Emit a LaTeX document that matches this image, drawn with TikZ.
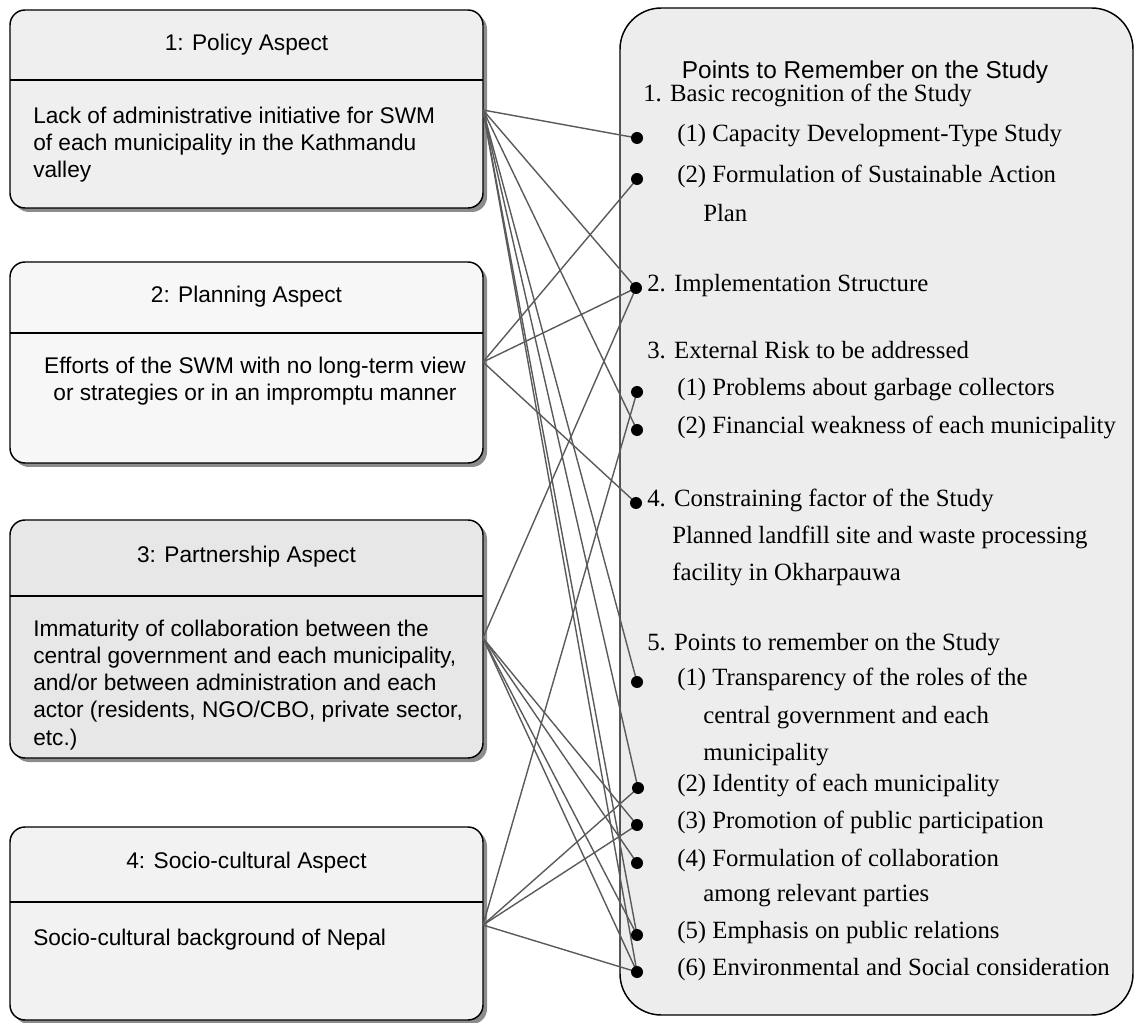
\documentclass[tikz,border=0pt]{standalone}
\usepackage{fontspec}
\setmainfont{Liberation Serif}
\setsansfont{Liberation Sans}
\definecolor{shadowc}{HTML}{8C8C8C}
\definecolor{fillA}{HTML}{EFEFEF}
\definecolor{fillB}{HTML}{F7F7F7}
\definecolor{fillC}{HTML}{E7E7E7}
\definecolor{fillD}{HTML}{F2F2F2}
\definecolor{panelc}{HTML}{EDEDED}
\definecolor{linkc}{HTML}{5A5A5A}
\begin{document}
\begin{tikzpicture}[x=0.75pt,y=-0.75pt,
  aspectbox/.style={draw=black, line width=1.1pt, rounded corners=11.25pt},
  boxshadow/.style={fill=shadowc, rounded corners=11.25pt},
  divider/.style={draw=black, line width=1pt},
  headtext/.style={font=\sffamily\fontsize{17}{20.3}\selectfont, inner sep=0pt},
  bodytext/.style={font=\sffamily\fontsize{17}{20.3}\selectfont, inner sep=0pt},
  paneltitle/.style={font=\sffamily\fontsize{18.3}{22}\selectfont, inner sep=0pt},
  itemtext/.style={font=\fontsize{18.6}{22}\selectfont, anchor=west, inner sep=0pt,
                   text height=0.68em, text depth=0.22em},
  dot/.style={circle, fill=black, inner sep=0pt, minimum size=9pt},
  link/.style={draw=linkc, line width=1.05pt}]

\useasboundingbox (0,0) rectangle (1136,1023);

% ---------- right panel ----------
\filldraw[fill=panelc, draw=black, line width=1.1pt, rounded corners=31pt]
  (620,8) rectangle (1133,1015);

% ---------- left aspect boxes ----------
% 1: Policy
\fill[boxshadow] (14,14) rectangle (487,212);
\filldraw[aspectbox, fill=fillA] (10,10) rectangle (483,208);
\draw[divider] (10,80) -- (483,80);
\node[headtext] (t1) at (246.5,45) {1: Policy Aspect};
\node[bodytext, anchor=west, align=left] (b1) at (33,145)
  {Lack of administrative initiative for SWM\\of each municipality in the Kathmandu\\valley};

% 2: Planning
\fill[boxshadow] (14,266) rectangle (487,467);
\filldraw[aspectbox, fill=fillB] (10,262) rectangle (483,463);
\draw[divider] (10,333) -- (483,333);
\node[headtext] (t2) at (246.5,297) {2: Planning Aspect};
\node[bodytext, align=center] (b2) at (255,381.5)
  {Efforts of the SWM with no long-term view\\or strategies or in an impromptu manner};

% 3: Partnership
\fill[boxshadow] (14,524) rectangle (487,762);
\filldraw[aspectbox, fill=fillC] (10,520) rectangle (483,758);
\draw[divider] (10,596) -- (483,596);
\node[headtext] (t3) at (246.5,557) {3: Partnership Aspect};
\node[bodytext, anchor=west, align=left] (b3) at (33,685)
  {Immaturity of collaboration between the\\central government and each municipality,\\and/or between administration and each\\actor (residents, NGO/CBO, private sector,\\etc.)};

% 4: Socio-cultural
\fill[boxshadow] (14,831) rectangle (487,1024);
\filldraw[aspectbox, fill=fillD] (10,827) rectangle (483,1020);
\draw[divider] (10,902) -- (483,902);
\node[headtext] (t4) at (246.5,863) {4: Socio-cultural Aspect};
\node[bodytext, anchor=west] (b4) at (33,940) {Socio-cultural background of Nepal};

% connector origins on the boxes' right edges
\coordinate (p1) at (483,110);
\coordinate (p2) at (483,362);
\coordinate (p3) at (483,638);
\coordinate (p4) at (483,925);

% ---------- panel texts ----------
\node[paneltitle] (ptitle) at (865,72) {Points to Remember on the Study};
\node[itemtext] (h1)  at (643,98)  {1. Basic recognition of the Study};
\node[itemtext] (i11) at (677,138) {(1) Capacity Development-Type Study};
\node[itemtext] (i12) at (677,179) {(2) Formulation of Sustainable Action};
\node[itemtext] (i12b) at (703,218) {Plan};
\node[itemtext] (h2)  at (647,288) {2. Implementation Structure};
\node[itemtext] (h3)  at (647,355) {3. External Risk to be addressed};
\node[itemtext] (i31) at (677,392) {(1) Problems about garbage collectors};
\node[itemtext] (i32) at (677,430) {(2) Financial weakness of each municipality};
\node[itemtext] (h4)  at (647,503) {4. Constraining factor of the Study};
\node[itemtext] (h4a) at (672,540) {Planned landfill site and waste processing};
\node[itemtext] (h4b) at (672,577) {facility in Okharpauwa};
\node[itemtext] (h5)  at (647,647) {5. Points to remember on the Study};
\node[itemtext] (i51) at (677,682) {(1) Transparency of the roles of the};
\node[itemtext] (i51b) at (703,720) {central government and each};
\node[itemtext] (i51c) at (703,757) {municipality};
\node[itemtext] (i52) at (677,788) {(2) Identity of each municipality};
\node[itemtext] (i53) at (677,825) {(3) Promotion of public participation};
\node[itemtext] (i54) at (677,863) {(4) Formulation of collaboration};
\node[itemtext] (i54b) at (703,898) {among relevant parties};
\node[itemtext] (i55) at (677,935) {(5) Emphasis on public relations};
\node[itemtext] (i56) at (677,972) {(6) Environmental and Social consideration};

% ---------- connector end points ----------
\coordinate (d11) at (637,138);
\coordinate (d12) at (637,179);
\coordinate (d2)  at (636,288);
\coordinate (d31) at (637,392);
\coordinate (d32) at (637,430);
\coordinate (d4)  at (636,503);
\coordinate (d51) at (637,682);
\coordinate (d52) at (638,788);
\coordinate (d53) at (637,825);
\coordinate (d54) at (637,863);
\coordinate (d55) at (637,935);
\coordinate (d56) at (637,972);

% ---------- connectors ----------
\foreach \t in {d11,d2,d32,d51,d52,d55,d56} \draw[link] (p1) -- (\t);
\foreach \t in {d12,d2,d4} \draw[link] (p2) -- (\t);
\foreach \t in {d2,d53,d54,d55,d56} \draw[link] (p3) -- (\t);
\foreach \t in {d31,d52,d53,d56} \draw[link] (p4) -- (\t);

% dots on top of the connector ends
\foreach \t in {d11,d12,d2,d31,d32,d4,d51,d52,d53,d54,d55,d56}
  \node[dot] (dot-\t) at (\t) {};

\end{tikzpicture}
\end{document}
